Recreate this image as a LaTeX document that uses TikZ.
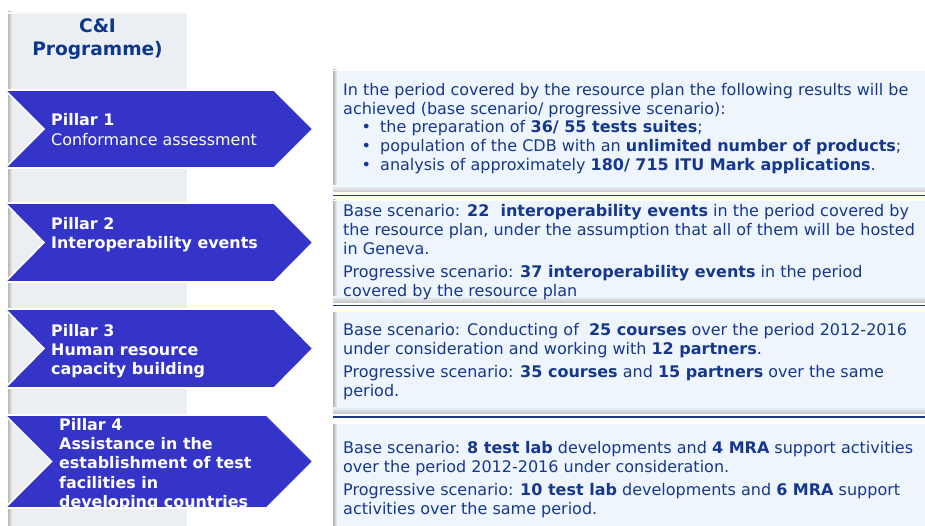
\documentclass[tikz,border=0pt]{standalone}
\usepackage{fontspec}
\setmainfont{DejaVu Sans}
\definecolor{arrowblue}{RGB}{52,52,200}
\definecolor{navy}{RGB}{22,56,140}
\definecolor{titlenavy}{RGB}{12,56,138}
\definecolor{boxfill}{RGB}{238,245,253}
\definecolor{colfill}{RGB}{235,238,243}
\definecolor{sepblue}{RGB}{28,58,125}
\tikzset{
  pillar/.style={fill=arrowblue, draw=white, line width=1.6pt, line join=miter},
  pillartext/.style={text=white, align=left, inner sep=0pt, anchor=north west,
    font=\fontsize{15.9}{19.3}\selectfont\bfseries},
  boxtext/.style={text=navy, align=left, inner sep=0pt, anchor=north west,
    font=\fontsize{16}{18.8}\selectfont},
  sepline/.style={draw=sepblue, line width=1.3pt}
}
\newcommand{\bulletitem}{\makebox[37pt][l]{\hspace{18.5pt}•}}
\begin{document}
\begin{tikzpicture}[x=1pt,y=-1pt]
\useasboundingbox (0,0) rectangle (925,526);
% grey column
\fill[colfill] (8,12) rectangle (187,526);
\shade[left color=black!28, right color=colfill] (8,12) rectangle (12,526);
\fill[white!70!colfill] (8,12) rectangle (187,14);
\node[font=\fontsize{18.6}{23}\selectfont\bfseries, text=titlenavy, align=center, anchor=north, inner sep=0pt] (title) at (97.5,16) {\strut C\&I\\Programme)};

% text boxes
\foreach \ya/\yb in {70/192, 200/302, 310/413, 422/526}{
  \fill[boxfill] (333,\ya) rectangle (925,\yb);
  \shade[left color=black!30, right color=boxfill] (333,\ya) rectangle (337,\yb);
  \fill[white] (333,\ya) rectangle (925,\ya+1.5);
}
\foreach \ya/\yb in {186/192, 296/302, 407/413}{
  \shade[top color=boxfill, bottom color=black!22] (333,\ya) rectangle (925,\yb);
}
\draw[sepline] (333,195.5) -- (925,195.5);
\draw[sepline] (333,305.5) -- (925,305.5);
\draw[sepline] (333,417) -- (925,417);

% pillar arrows
\draw[pillar] (5,90) -- (274,90) -- (313,129) -- (274,168) -- (5,168) -- (44,129) -- cycle;
\draw[pillar] (5,203) -- (274,203) -- (313,242.5) -- (274,282) -- (5,282) -- (44,242.5) -- cycle;
\draw[pillar] (5,309) -- (274,309) -- (313,348.5) -- (274,388) -- (5,388) -- (44,348.5) -- cycle;
\draw[pillar] (5,415) -- (266.5,415) -- (313,461.5) -- (266.5,508) -- (5,508) -- (51.5,461.5) -- cycle;

\node[pillartext] (p1) at (51,112) {\strut Pillar 1\\\mdseries Conformance assessment};
\node[pillartext] (p2) at (51,215.5) {\strut Pillar 2\\Interoperability events};
\node[pillartext] (p3) at (51,322.5) {\strut Pillar 3\\Human resource\\capacity building};
\node[pillartext] (p4) at (59,416.5) {\strut Pillar 4\\Assistance in the\\establishment of test\\facilities in\\developing countries};

% box texts
\node[boxtext] (t1) at (343,82) {\strut In the period covered by the resource plan the following results will be\\
achieved (base scenario/ progressive scenario):\\
\bulletitem the preparation of \textbf{36/ 55 tests suites};\\
\bulletitem population of the CDB with an \textbf{unlimited number of products};\\
\bulletitem analysis of approximately \textbf{180/ 715 ITU Mark applications}.};

\node[boxtext] (t2) at (343,203.5) {\strut Base scenario: \textbf{22\ \ interoperability events} in the period covered by\\
the resource plan, under the assumption that all of them will be hosted\\
in Geneva.\\[4pt]
Progressive scenario: \textbf{37 interoperability events} in the period\\
covered by the resource plan};

\node[boxtext] (t3) at (343,322) {\strut Base scenario: Conducting of\ \ \textbf{25 courses} over the period 2012-2016\\
under consideration and working with \textbf{12 partners}.\\[5pt]
Progressive scenario: \textbf{35 courses} and \textbf{15 partners} over the same\\
period.};

\node[boxtext] (t4) at (343,440) {\strut Base scenario: \textbf{8 test lab} developments and \textbf{4 MRA} support activities\\
over the period 2012-2016 under consideration.\\[5pt]
Progressive scenario: \textbf{10 test lab} developments and \textbf{6 MRA} support\\
activities over the same period.};
\end{tikzpicture}
\end{document}
